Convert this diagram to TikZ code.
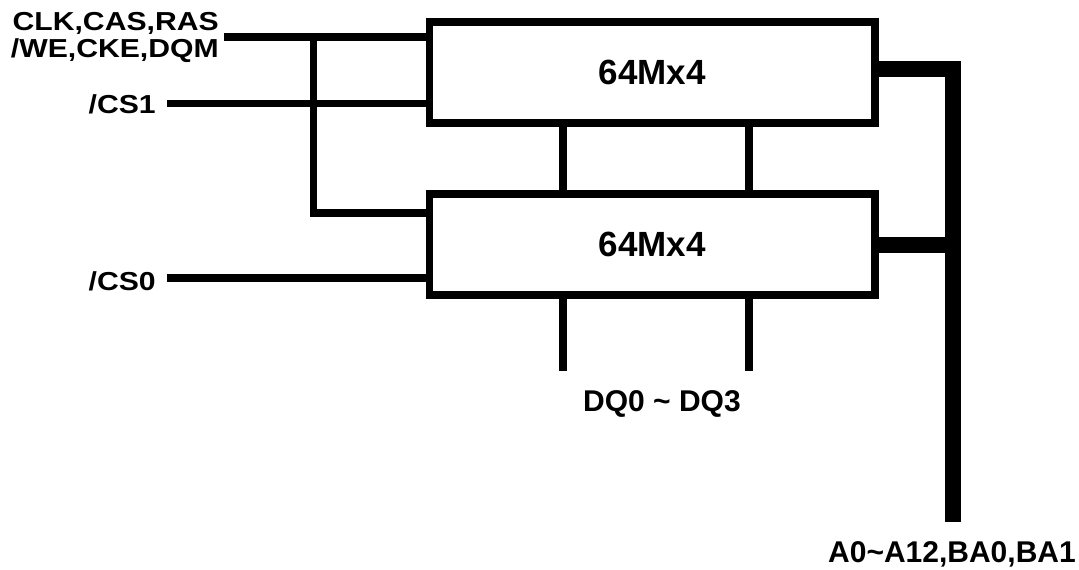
\documentclass[tikz,border=0pt]{standalone}
\usepackage{fontspec}
\setmainfont{Liberation Sans}
\newfontfamily\widefont[FakeStretch=1.16]{Liberation Sans}
\usetikzlibrary{calc}

\begin{document}
\begin{tikzpicture}[x=0.75pt,y=-0.75pt,
    chip/.style={draw,line width=5.6pt,minimum width=334.1pt,minimum height=75.75pt,inner sep=0pt,
        font=\fontsize{26.25}{26.25}\selectfont\bfseries},
    sig/.style={line width=5.3pt},
    bus/.style={line width=12pt},
    lbl/.style={inner sep=0pt,align=right,font=\widefont\fontsize{19.5}{20.25}\selectfont\bfseries},
    pin/.style={inner sep=0pt,font=\fontsize{22.5}{22.5}\selectfont\bfseries}]
    \useasboundingbox (0,0) rectangle (1079,569);

    \node[chip] (chipA) at (652.25,72.5) {64Mx4};
    \node[chip] (chipB) at (652.25,244.5) {64Mx4};

    \coordinate (ctl) at (224,37);
    \coordinate (cs1) at (167,103.5);
    \coordinate (cs0) at (167,278);
    \coordinate (tap) at (313.5,37);
    \coordinate (tapB) at (313.5,213);
    \coordinate (dqa) at (563,371);
    \coordinate (dqb) at (749,371);
    \coordinate (bus) at (953,521.7);

    \node[lbl,anchor=north east] (ctllbl) at (219,12.5) {CLK,CAS,RAS\\/WE,CKE,DQM};
    \node[lbl,anchor=east] (cs1lbl) at (156,104) {/CS1};
    \node[lbl,anchor=east] (cs0lbl) at (156,281) {/CS0};
    \node[pin] (dqlbl) at (662,404) {DQ0 \textasciitilde{} DQ3};
    \node[pin] (addrlbl) at (952,554) {A0\textasciitilde A12,BA0,BA1};

    \draw[sig] (ctl) -- (ctl -| chipA.west);
    \draw[sig] (tap) -- (tapB) -- (tapB -| chipB.west);
    \draw[sig] (cs1) -- (cs1 -| chipA.west);
    \draw[sig] (cs0) -- (cs0 -| chipB.west);

    \draw[sig] (chipA.south -| dqa) -- (chipB.north -| dqa);
    \draw[sig] (chipA.south -| dqb) -- (chipB.north -| dqb);
    \draw[sig] (chipB.south -| dqa) -- (dqa);
    \draw[sig] (chipB.south -| dqb) -- (dqb);

    \draw[bus] ([yshift=2.6pt]chipA.east) -| (bus);
    \draw[bus] (chipB.east) -- (chipB.east -| bus);
\end{tikzpicture}
\end{document}
